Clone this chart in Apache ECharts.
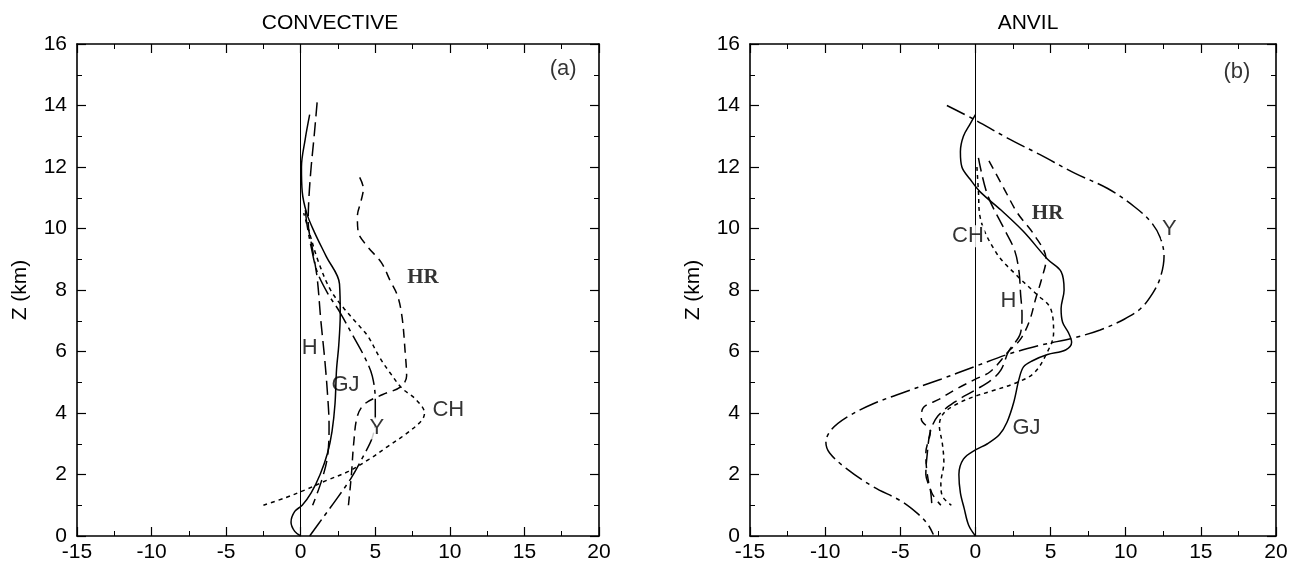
<!DOCTYPE html>
<html>
<head>
<meta charset="utf-8">
<script src="https://cdn.jsdelivr.net/npm/echarts@6/dist/echarts.min.js"></script>
<style>
  html, body { margin: 0; padding: 0; background: #fff; }
  #main { width: 1292px; height: 563px; }
</style>
</head>
<body>
<div id="main"></div>
<script>
// axis ticks
var xTicks = [-15, 20, 5];   // min, max, step
var zTicks = [0, 16, 2];

// (a) convective profiles, [x, Z km]
var convGJ = [[0.6,13.7],[0.3,12.9],[0.05,12.0],[0.1,11.2],[0.4,10.5],[0.9,9.9],[1.7,9.1],[2.6,8.2],[2.65,7.2],[2.55,6.2],[2.4,5.4],[2.3,4.3],[2.1,3.4],[1.8,2.7],[1.3,2.0],[0.7,1.4],[0.1,1.0],[-0.4,0.8],[-0.65,0.45],[-0.4,0.15],[0,0]];
var convH = [[1.1,14.1],[0.9,13.0],[0.7,12.0],[0.55,11.0],[0.5,10.2],[0.8,9.3],[1.1,8.4],[1.35,7.0],[1.6,5.8],[1.8,4.6],[1.9,3.6],[1.8,2.6],[1.4,1.8],[0.8,1.0]];
var convCH = [[-2.5,1.0],[-1.0,1.25],[0.3,1.5],[1.7,1.8],[3.2,2.1],[4.6,2.5],[5.8,2.9],[7.0,3.3],[8.1,3.75],[8.3,4.0],[7.7,4.45],[6.8,4.8],[6.0,5.3],[5.3,5.8],[4.5,6.5],[3.8,6.9],[2.9,7.4],[2.0,8.0],[1.2,8.9],[0.5,10.0],[0.2,10.5]];
var convY = [[0.6,0],[1.5,0.6],[2.4,1.2],[3.4,1.9],[4.2,2.6],[4.8,3.2],[5.0,3.8],[5.0,4.4],[4.8,5.2],[4.3,5.8],[3.4,6.6],[2.6,7.3],[1.8,7.9],[1.1,8.6],[0.7,9.4],[0.4,10.2],[0.3,10.7]];
var convHR = [[3.2,1.0],[3.4,2.0],[3.55,3.0],[3.8,3.9],[4.3,4.3],[5.5,4.6],[6.7,4.85],[7.1,5.2],[7.0,6.0],[6.8,7.1],[6.5,7.8],[6.0,8.3],[5.4,8.9],[4.5,9.4],[3.85,9.9],[3.8,10.4],[4.05,10.9],[4.2,11.3],[3.8,11.8]];

// (b) anvil profiles
var anvGJ = [[0,0],[-0.45,0.35],[-0.75,0.9],[-1.0,1.4],[-1.1,2.0],[-0.8,2.5],[0,2.8],[0.8,3.0],[1.6,3.3],[2.1,3.7],[2.55,4.35],[2.9,5.1],[3.2,5.5],[3.8,5.7],[4.8,5.9],[6.0,6.05],[6.4,6.3],[6.2,6.6],[5.8,6.95],[5.7,7.4],[5.9,8.0],[5.7,8.6],[4.8,9.0],[3.2,9.9],[1.7,10.6],[0.3,11.2],[-0.35,11.6],[-0.9,12.0],[-1.0,12.5],[-0.8,13.0],[-0.35,13.4],[0,13.7]];
var anvY = [[-1.9,14.0],[-0.1,13.55],[2.1,12.95],[4.3,12.4],[6.6,11.8],[8.8,11.3],[10.6,10.7],[11.7,10.2],[12.3,9.7],[12.55,9.1],[12.3,8.4],[11.8,7.9],[11.0,7.4],[9.9,7.05],[8.3,6.7],[6.6,6.45],[4.3,6.2],[2.1,5.9],[-0.1,5.5],[-2.3,5.1],[-4.6,4.7],[-6.8,4.3],[-8.6,3.85],[-9.6,3.45],[-9.95,3.05],[-9.7,2.7],[-8.6,2.2],[-6.8,1.6],[-5.0,1.15],[-3.9,0.75],[-3.2,0.4],[-2.8,0.05]];
var anvCH = [[0.1,12.0],[0.2,11.2],[0.3,10.4],[1.4,9.2],[2.8,8.45],[4.1,7.85],[5.0,7.4],[5.2,6.6],[4.7,5.9],[3.9,5.3],[2.8,5.0],[1.0,4.7],[0,4.55],[-1.2,4.3],[-2.1,4.0],[-2.4,3.6],[-2.2,3.0],[-2.1,2.4],[-2.3,1.7],[-2.2,1.3],[-1.6,1.0]];
var anvH = [[0.2,12.3],[0.8,11.1],[1.9,10.0],[2.6,9.3],[2.9,8.6],[3.0,7.9],[3.1,7.2],[3.0,6.6],[2.2,6.0],[1.7,5.4],[1.0,5.05],[0,4.75],[-1.4,4.35],[-2.5,3.9],[-3.0,3.4],[-3.2,2.7],[-3.3,2.0],[-3.0,1.5],[-2.9,1.0]];
var anvHR = [[0.9,12.2],[1.9,11.3],[2.8,10.5],[3.9,9.8],[4.7,9.0],[4.4,8.35],[4.0,7.7],[3.6,7.0],[3.0,6.4],[2.2,6.0],[1.0,5.35],[0,5.1],[-1.2,4.8],[-2.4,4.45],[-3.5,4.15],[-3.6,3.8],[-3.0,3.4],[-3.3,2.7],[-3.2,2.0],[-2.9,1.4],[-2.3,1.0]];

// curve labels: [text, x, Z]
var convLabels = [['HR',8.2,8.4],['H',0.6,6.1],['GJ',3.0,4.9],['Y',5.1,3.5],['CH',9.9,4.1],['(a)',17.6,15.2]];
var anvLabels = [['HR',4.8,10.5],['CH',-0.5,9.75],['H',2.2,7.65],['Y',12.9,10.0],['GJ',3.4,3.5],['(b)',17.4,15.1]];

var FONT = 'Liberation Sans';
var dashes = { GJ: 'solid', H: [14, 6], CH: [4, 4], HR: [9, 6], Y: [20, 5, 4, 5] };

var chart = echarts.init(document.getElementById('main'));

function xAx(grid, pos) {
    return {
        type: 'value', gridIndex: grid, position: pos,
        min: xTicks[0], max: xTicks[1], interval: xTicks[2],
        axisLine: { show: true, onZero: false, lineStyle: { color: '#000', width: 1.6 } },
        axisTick: { show: true, inside: true, length: 9, lineStyle: { color: '#000', width: 1.2 } },
        minorTick: { show: true, splitNumber: 2, length: 5, lineStyle: { color: '#000', width: 1 } },
        axisLabel: { show: pos === 'bottom', color: '#000', fontFamily: FONT, fontSize: 21, margin: 6 },
        splitLine: { show: false }
    };
}
function yAx(grid, pos) {
    return {
        type: 'value', gridIndex: grid, position: pos,
        min: zTicks[0], max: zTicks[1], interval: zTicks[2],
        name: pos === 'left' ? 'Z (km)' : '', nameLocation: 'middle', nameGap: 46, nameRotate: 90,
        nameTextStyle: { color: '#000', fontFamily: FONT, fontSize: 21 },
        axisLine: { show: true, onZero: false, lineStyle: { color: '#000', width: 1.6 } },
        axisTick: { show: true, inside: true, length: 9, lineStyle: { color: '#000', width: 1.2 } },
        minorTick: { show: true, splitNumber: 2, length: 5, lineStyle: { color: '#000', width: 1 } },
        axisLabel: { show: pos === 'left', color: '#000', fontFamily: FONT, fontSize: 21, margin: 10 },
        splitLine: { show: false }
    };
}

function curve(name, data, grid) {
    var s = {
        name: name, type: 'line', data: data,
        xAxisIndex: grid * 2, yAxisIndex: grid * 2,
        smooth: 0.35, showSymbol: false, silent: true,
        lineStyle: { color: '#000', width: 1.5, type: dashes[name] }
    };
    if (name === 'GJ') {
        // vertical zero line
        s.markLine = {
            silent: true, symbol: ['none', 'none'], label: { show: false },
            lineStyle: { color: '#000', width: 1, type: 'solid' },
            data: [{ xAxis: 0 }]
        };
    }
    return s;
}

function labels(list, grid) {
    return {
        type: 'scatter', xAxisIndex: grid * 2, yAxisIndex: grid * 2,
        symbolSize: 0, silent: true, z: 5,
        data: list.map(function (l) {
            var serif = l[0] === 'HR';
            return {
                value: [l[1], l[2]], name: l[0],
                label: {
                    show: true, position: [0, 0], align: 'center', verticalAlign: 'middle',
                    formatter: l[0], color: '#000',
                    fontFamily: serif ? 'Liberation Serif' : FONT,
                    fontWeight: serif ? 'bold' : 'normal',
                    fontSize: serif ? 21 : 22,
                    backgroundColor: (l[0] === 'Y' || l[0] === 'CH') ? '#fff' : 'transparent',
                    padding: [0, 1]
                }
            };
        })
    };
}

var option = {
    animation: false,
    backgroundColor: '#fff',
    graphic: [
        { type: 'text', x: 330, y: 23, style: { text: 'CONVECTIVE', align: 'center', verticalAlign: 'middle', font: '21px "Liberation Sans"', fill: '#000' } },
        { type: 'text', x: 1028, y: 23, style: { text: 'ANVIL', align: 'center', verticalAlign: 'middle', font: '21px "Liberation Sans"', fill: '#000' } }
    ],
    grid: [
        { left: 77, top: 44, width: 522, height: 492 },
        { left: 750, top: 44, width: 526, height: 492 }
    ],
    xAxis: [xAx(0, 'bottom'), xAx(0, 'top'), xAx(1, 'bottom'), xAx(1, 'top')],
    yAxis: [yAx(0, 'left'), yAx(0, 'right'), yAx(1, 'left'), yAx(1, 'right')],
    series: [
        curve('GJ', convGJ, 0), curve('H', convH, 0), curve('CH', convCH, 0),
        curve('Y', convY, 0), curve('HR', convHR, 0),
        curve('GJ', anvGJ, 1), curve('H', anvH, 1), curve('CH', anvCH, 1),
        curve('Y', anvY, 1), curve('HR', anvHR, 1),
        labels(convLabels, 0), labels(anvLabels, 1)
    ]
};
chart.setOption(option);
</script>
</body>
</html>
